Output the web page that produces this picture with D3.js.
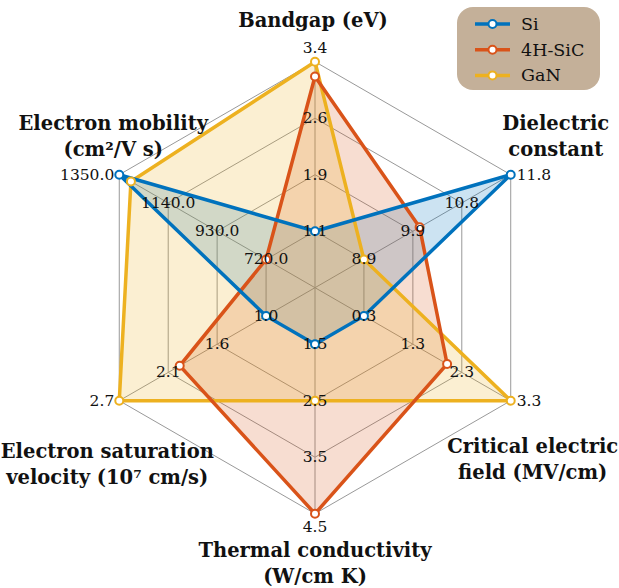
<!DOCTYPE html>
<html>
<head>
<meta charset="utf-8">
<script src="https://cdn.jsdelivr.net/npm/d3@7"></script>
<style>
  body { margin: 0; background: #fff; }
  text { font-family: "DejaVu Serif", serif; fill: #111; }
</style>
</head>
<body>
<script>
// axis titles, split into lines
var axisTitles = [
  ["Bandgap (eV)"],
  ["Dielectric", "constant"],
  ["Critical electric", "field (MV/cm)"],
  ["Thermal conductivity", "(W/cm K)"],
  ["Electron saturation", "velocity (10\u2077 cm/s)"],
  ["Electron mobility", "(cm\u00b2/V s)"]
];
// tick labels for each axis, inner ring to outer ring
var tickLabels = [
  ["1.1", "1.9", "2.6", "3.4"],
  ["8.9", "9.9", "10.8", "11.8"],
  ["0.3", "1.3", "2.3", "3.3"],
  ["1.5", "2.5", "3.5", "4.5"],
  ["1.0", "1.6", "2.1", "2.7"],
  ["720.0", "930.0", "1140.0", "1350.0"]
];
var seriesNames = ["Si", "4H-SiC", "GaN"];
var siValues  = [1.1, 11.8, 0.3, 1.5, 1.0, 1350];
var sicValues = [3.2, 10.0, 2.0, 4.5, 2.0, 720];
var ganValues = [3.4, 8.9, 3.3, 2.5, 2.7, 1300];
var colors = ["#0072BD", "#D95319", "#EDB120"];

var w = 619, h = 588;
var cx = 315, cy = 287.7, R = 226;
var nRings = 4;

var svg = d3.select("body").append("svg")
            .attr("width", w)
            .attr("height", h);

var angle = d3.scaleLinear().domain([0, axisTitles.length]).range([-Math.PI / 2, 1.5 * Math.PI]);

// one radial scale per axis: first ring = first tick, outer ring = last tick
var scales = tickLabels.map(function(t) {
  var lo = +t[0], hi = +t[t.length - 1];
  var step = (hi - lo) / (t.length - 1);
  return d3.scaleLinear().domain([lo - step, hi]).range([0, R]);
});

function pt(i, r) {
  var a = angle(i);
  return [cx + r * Math.cos(a), cy + r * Math.sin(a)];
}

var grid = svg.append("g").attr("stroke", "#999").attr("stroke-width", 1).attr("fill", "none");
d3.range(1, nRings + 1).forEach(function(k) {
  var ring = axisTitles.map(function(d, i) { return pt(i, R * k / nRings); });
  grid.append("path").attr("d", d3.line()(ring) + "Z");
});
axisTitles.forEach(function(d, i) {
  grid.append("path").attr("d", d3.line()([[cx, cy], pt(i, R)]));
});

var series = [siValues, sicValues, ganValues].map(function(vals, s) {
  return { name: seriesNames[s], color: colors[s],
           points: vals.map(function(v, i) { return pt(i, scales[i](v)); }) };
});

// fills
svg.append("g").selectAll("path")
   .data(series)
   .enter()
   .append("path")
   .attr("d", function(d) { return d3.line()(d.points) + "Z"; })
   .attr("fill", function(d) { return d.color; })
   .attr("fill-opacity", 0.2)
   .attr("stroke", "none");

// outlines, Si on top
svg.append("g").selectAll("path")
   .data(series.slice().reverse())
   .enter()
   .append("path")
   .attr("d", function(d) { return d3.line()(d.points) + "Z"; })
   .attr("fill", "none")
   .attr("stroke", function(d) { return d.color; })
   .attr("stroke-width", 3.5)
   .attr("stroke-linejoin", "miter");

// markers
series.forEach(function(s) {
  svg.append("g").selectAll("circle")
     .data(s.points)
     .enter()
     .append("circle")
     .attr("cx", function(d) { return d[0]; })
     .attr("cy", function(d) { return d[1]; })
     .attr("r", 4)
     .attr("fill", "#fff")
     .attr("stroke", s.color)
     .attr("stroke-width", 2);
});

// tick labels
var ticks = svg.append("g").attr("font-size", "15.5px");
tickLabels.forEach(function(t, i) {
  t.forEach(function(lab, k) {
    var p = pt(i, R * (k + 1) / nRings);
    var anchor = "middle", dx = 0, dy = 0;
    if (k == t.length - 1) {
      var c = Math.cos(angle(i)), sn = Math.sin(angle(i));
      if (c > 0.1) { anchor = "start"; dx = 6; }
      else if (c < -0.1) { anchor = "end"; dx = -5; }
      else { dy = sn * 13.5; }
    }
    ticks.append("text")
         .attr("x", p[0] + dx)
         .attr("y", p[1] + dy)
         .attr("text-anchor", anchor)
         .attr("dominant-baseline", "central")
         .text(lab);
  });
});

// axis titles: offset of the block centre from the outer vertex
var titleOffsets = [[-2, -41], [45, -38], [22, 59], [0, 50], [-12, 64], [-6, -38]];
var lineGap = 26.5;
axisTitles.forEach(function(lines, i) {
  var p = pt(i, R);
  var x = p[0] + titleOffsets[i][0];
  var y0 = p[1] + titleOffsets[i][1] - (lines.length - 1) * lineGap / 2;
  var t = svg.append("text")
             .attr("text-anchor", "middle")
             .attr("font-weight", "bold")
             .attr("font-size", "19.5px");
  lines.forEach(function(l, j) {
    t.append("tspan")
     .attr("x", x)
     .attr("y", y0 + j * lineGap)
     .attr("dominant-baseline", "central")
     .text(l);
  });
});

// legend
var lg = svg.append("g").attr("transform", "translate(457,7)");
lg.append("rect")
  .attr("width", 143).attr("height", 83)
  .attr("rx", 16).attr("ry", 16)
  .attr("fill", "#c4b099");
series.forEach(function(s, i) {
  var y = 17 + i * 25.7;
  lg.append("line")
    .attr("x1", 18).attr("x2", 53)
    .attr("y1", y).attr("y2", y)
    .attr("stroke", s.color).attr("stroke-width", 3.5);
  lg.append("circle")
    .attr("cx", 35.5).attr("cy", y).attr("r", 4)
    .attr("fill", "#fff").attr("stroke", s.color).attr("stroke-width", 2);
  lg.append("text")
    .attr("x", 64).attr("y", y)
    .attr("dominant-baseline", "central")
    .attr("font-size", "17.5px")
    .text(s.name);
});
</script>
</body>
</html>
